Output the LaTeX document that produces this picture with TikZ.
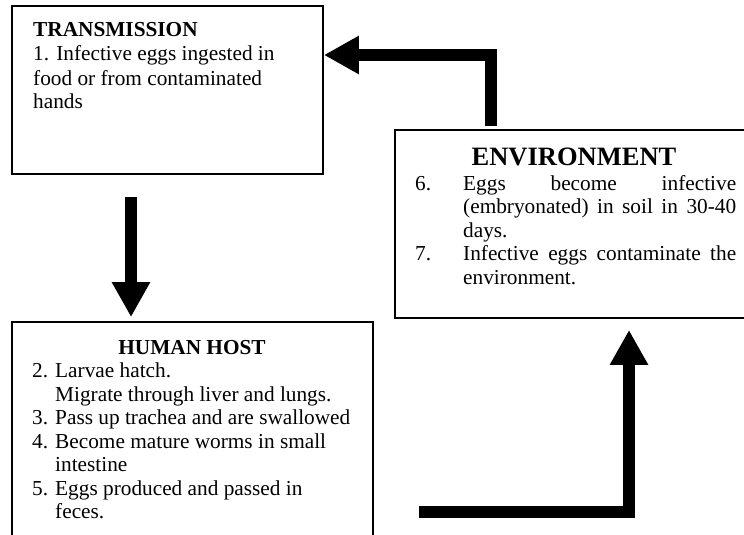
\documentclass[tikz,border=0pt]{standalone}
\usepackage{fontspec}
\setmainfont{Liberation Serif}
\usetikzlibrary{arrows.meta}
\begin{document}
\begin{tikzpicture}[x=1pt,y=-1pt,
  txt/.style={inner sep=0pt, anchor=base west, font=\fontsize{21.3}{24}\selectfont},
  ttl/.style={inner sep=0pt, anchor=base, font=\bfseries\fontsize{21.3}{24}\selectfont},
  box/.style={draw, line width=1.8pt, inner sep=0pt},
  bigarrow/.style={line width=12pt, -{Triangle[width=36pt,length=35pt]}}]
\useasboundingbox (0,0) rectangle (744,535);
\clip (0,0) rectangle (744,535);
% boxes
\node[box, minimum width=311pt, minimum height=168pt] (trans) at (167.5,90) {};
\node[box, minimum width=356pt, minimum height=188pt] (env) at (573,224) {};
\node[box, minimum width=361pt, minimum height=240pt] (human) at (192.5,442) {};
% transmission text
\node[txt, font=\bfseries\fontsize{21.3}{24}\selectfont] (t0) at (33,37) {TRANSMISSION};
\node[txt] (t1) at (33,61) {1. Infective eggs ingested in};
\node[txt] (t2) at (33,85) {food or from contaminated};
\node[txt] (t3) at (33,108.5) {hands};
% environment text
\node[inner sep=0pt, anchor=base, font=\bfseries\fontsize{26.5}{30}\selectfont] (e0) at (574,165) {ENVIRONMENT};
\node[txt] (e6n) at (415,190) {6.};
\node[txt] (e6a) at (463,190) {\makebox[273pt][s]{Eggs become infective}};
\node[txt] (e6b) at (463,213.5) {\makebox[273pt][s]{(embryonated) in soil in 30-40}};
\node[txt] (e6c) at (463,237) {days.};
\node[txt] (e7n) at (415,260.5) {7.};
\node[txt] (e7a) at (463,260.5) {\makebox[273pt][s]{Infective eggs contaminate the}};
\node[txt] (e7b) at (463,284) {environment.};
% human host text
\node[ttl] (h0) at (192,354) {HUMAN HOST};
\node[txt] (h2n) at (32,377.5) {2.};
\node[txt] (h2a) at (55,377.5) {Larvae hatch.};
\node[txt] (h2b) at (55,401) {Migrate through liver and lungs.};
\node[txt] (h3n) at (32,424.5) {3.};
\node[txt] (h3a) at (55,424.5) {Pass up trachea and are swallowed};
\node[txt] (h4n) at (32,448) {4.};
\node[txt] (h4a) at (55,448) {Become mature worms in small};
\node[txt] (h4b) at (55,471.5) {intestine};
\node[txt] (h5n) at (32,495) {5.};
\node[txt] (h5a) at (55,495) {Eggs produced and passed in};
\node[txt] (h5b) at (55,518.5) {feces.};
% arrows
\coordinate (b1) at (491,55);
\draw[bigarrow, shorten <=3pt] (env.north -| b1) -- (b1) -- (trans.east |- b1);
\coordinate (c2) at (131,0);
\draw[bigarrow, shorten <=22pt, shorten >=4pt] (trans.south -| c2) -- (human.north -| c2);
\coordinate (b3) at (629,512);
\draw[bigarrow, shorten <=45pt, shorten >=11pt] (human.east |- b3) -- (b3) -- (env.south -| b3);
\end{tikzpicture}
\end{document}
